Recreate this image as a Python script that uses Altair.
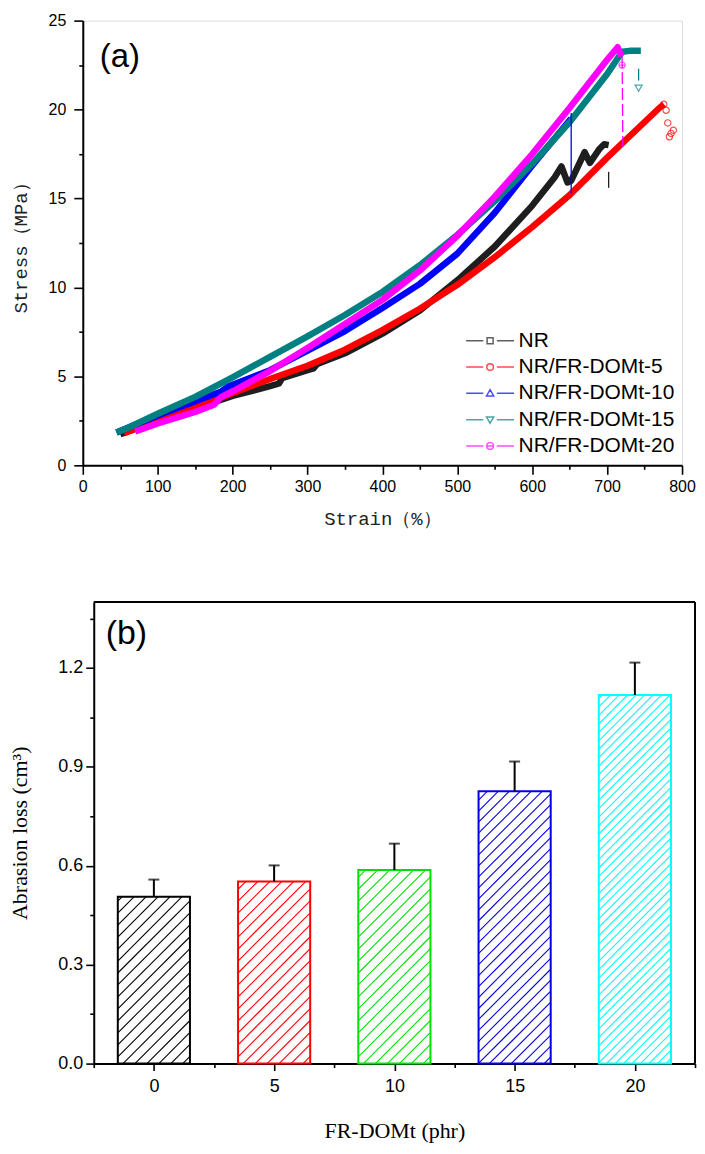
import altair as alt
import numpy as np
import pandas as pd

# ---------------- panel (a): stress-strain curves ----------------
SERIES = ["NR", "NR/FR-DOMt-5", "NR/FR-DOMt-10", "NR/FR-DOMt-15", "NR/FR-DOMt-20"]
SERIES_COLORS = ["#1e1e1e", "#ff0000", "#0000ff", "#008080", "#ff00ff"]

NR_STRAIN = [50, 100, 150, 200, 250, 262, 266, 300, 308, 313, 350, 400, 450, 500, 550, 600, 630, 639, 647, 652, 670, 677, 690, 696, 702]
NR_STRESS = [1.75, 2.5, 3.2, 3.9, 4.45, 4.6, 4.9, 5.35, 5.45, 5.7, 6.3, 7.4, 8.7, 10.4, 12.3, 14.6, 16.2, 16.8, 15.9, 16.0, 17.6, 17.0, 17.8, 18.05, 18.0]

FR5_STRAIN = [55, 100, 150, 200, 250, 300, 350, 400, 450, 500, 550, 600, 650, 700, 750, 770, 776]
FR5_STRESS = [1.8, 2.55, 3.3, 4.05, 4.85, 5.6, 6.5, 7.6, 8.8, 10.15, 11.7, 13.4, 15.2, 17.3, 19.3, 20.1, 20.3]

FR10_STRAIN = [45, 100, 150, 185, 195, 250, 300, 350, 400, 450, 500, 550, 600, 652]
FR10_STRESS = [1.85, 2.8, 3.6, 4.15, 4.45, 5.35, 6.45, 7.55, 8.85, 10.2, 11.9, 14.2, 16.85, 19.5]

FR15_STRAIN = [45, 60, 100, 150, 200, 250, 300, 350, 400, 450, 500, 550, 600, 650, 700, 720, 730, 745]
FR15_STRESS = [1.85, 2.1, 2.9, 3.85, 4.95, 6.1, 7.25, 8.45, 9.75, 11.25, 12.95, 14.85, 16.95, 19.3, 22.0, 23.25, 23.3, 23.3]

FR20_STRAIN = [70, 100, 150, 175, 185, 200, 250, 300, 350, 400, 450, 500, 550, 600, 650, 700, 714, 719]
FR20_STRESS = [1.9, 2.35, 3.0, 3.4, 3.85, 4.15, 5.3, 6.6, 7.95, 9.3, 10.95, 12.9, 15.1, 17.5, 20.1, 22.8, 23.5, 23.0]

# thin fracture lines after the end of each curve
DROP_SERIES = ["NR", "NR", "NR/FR-DOMt-10", "NR/FR-DOMt-10",
               "NR/FR-DOMt-15", "NR/FR-DOMt-15", "NR/FR-DOMt-20", "NR/FR-DOMt-20"]
DROP_STRAIN = [702, 702, 652, 652, 742, 742, 720, 721]
DROP_STRESS = [16.5, 15.6, 19.8, 15.3, 22.3, 21.6, 23.0, 17.9]
DROP_DASHED = [False, False, False, False, True, True, True, True]

# scattered end markers
RED_TAIL_STRAIN = [775.6, 778.7, 780.9, 788.4, 785.3, 783.1]
RED_TAIL_STRESS = [20.3, 19.96, 19.25, 18.84, 18.66, 18.47]
TEAL_END_STRAIN = [742]
TEAL_END_STRESS = [21.2]
PINK_END_STRAIN = [720]
PINK_END_STRESS = [22.5]

# ---------------- panel (b): abrasion loss ----------------
LOADINGS = [0, 5, 10, 15, 20]
ABRASION = [0.506, 0.552, 0.587, 0.826, 1.118]
ABRASION_ERR = [0.052, 0.049, 0.080, 0.090, 0.098]
BAR_COLORS = ["#000000", "#ff0000", "#00e000", "#0000e6", "#00ffff"]

# ---------------- layout / style constants ----------------
WA, HA = 601, 446
WB, HB = 603, 463
B_SHIFT = 11          # panel (b) frame sits 11 px to the right of panel (a)'s
XB_DOMAIN = [-2.5, 22.5]
YB_DOMAIN = [0, 1.4]
BAR_HALF = 1.5
HATCH_PX = [12, 12, 12, 11, 8.5]

# ---------- build tables ----------
curve_parts = []
for name, xs, ys in zip(SERIES,
                        [NR_STRAIN, FR5_STRAIN, FR10_STRAIN, FR15_STRAIN, FR20_STRAIN],
                        [NR_STRESS, FR5_STRESS, FR10_STRESS, FR15_STRESS, FR20_STRESS]):
    curve_parts.append(pd.DataFrame({"series": name, "strain": xs, "stress": ys,
                                     "ord": np.arange(len(xs))}))
curves = pd.concat(curve_parts, ignore_index=True)

drops = pd.DataFrame({"series": DROP_SERIES, "strain": DROP_STRAIN,
                      "stress": DROP_STRESS, "dashed": DROP_DASHED})
drops["ord"] = np.arange(len(drops))

axis_common = dict(grid=False, domainColor="black", domainWidth=2, tickColor="black",
                   tickWidth=1.6, labelColor="black", labelFont="Liberation Sans",
                   labelOverlap=False, labelFlush=False, titleFontWeight="normal")

axis_ax = alt.Axis(values=list(range(0, 801, 50)),
                   labelExpr="datum.value % 100 == 0 ? datum.label : ''",
                   tickSize={"condition": {"test": "datum.value % 100 != 0", "value": 4}, "value": 9},
                   title="Strain（%）", titleFont="Liberation Mono", titleFontSize=19,
                   titleColor="#222222", titlePadding=15, labelFontSize=16, labelPadding=4,
                   **axis_common)
axis_ay = alt.Axis(values=[2.5 * k for k in range(11)],
                   labelExpr="datum.value % 5 == 0 ? datum.label : ''",
                   tickSize={"condition": {"test": "datum.value % 5 != 0", "value": 4}, "value": 9},
                   title="Stress（MPa）", titleFont="Liberation Mono", titleFontSize=19,
                   titleColor="#222222", titlePadding=18, labelFontSize=16, labelPadding=8,
                   **axis_common)

xa = lambda f: alt.X(f, scale=alt.Scale(domain=[0, 800], nice=False, zero=False), axis=axis_ax)
ya = lambda f: alt.Y(f, scale=alt.Scale(domain=[0, 25], nice=False, zero=False), axis=axis_ay)

layers_a = []
for name, col in zip(SERIES, SERIES_COLORS):
    layers_a.append(
        alt.Chart(curves).transform_filter(alt.datum.series == name)
        .mark_line(strokeWidth=6.5, strokeJoin="round", color=col)
        .encode(x=xa("strain:Q"), y=ya("stress:Q"), order="ord:Q")
    )

for name, col in zip(SERIES, SERIES_COLORS):
    sub = drops[drops["series"] == name]
    if len(sub) == 0:
        continue
    if bool(sub["dashed"].iloc[0]):
        mk = dict(strokeWidth=1.3, color=col, strokeDash=[12, 4])
    else:
        mk = dict(strokeWidth=1.3, color=col)
    layers_a.append(
        alt.Chart(drops).transform_filter(alt.datum.series == name)
        .mark_line(**mk).encode(x=xa("strain:Q"), y=ya("stress:Q"), order="ord:Q")
    )

layers_a.append(
    alt.Chart(pd.DataFrame({"strain": RED_TAIL_STRAIN, "stress": RED_TAIL_STRESS}))
    .mark_point(shape="circle", filled=False, size=40, color="#ff0000", strokeWidth=1.2)
    .encode(x=xa("strain:Q"), y=ya("stress:Q")))
layers_a.append(
    alt.Chart(pd.DataFrame({"strain": TEAL_END_STRAIN, "stress": TEAL_END_STRESS}))
    .mark_point(shape="triangle-down", filled=False, size=50, color="#008080", strokeWidth=1.2)
    .encode(x=xa("strain:Q"), y=ya("stress:Q")))
layers_a.append(
    alt.Chart(pd.DataFrame({"strain": PINK_END_STRAIN, "stress": PINK_END_STRESS}))
    .mark_point(shape="M0.8,0A0.8,0.8,0,1,1,-0.8,0A0.8,0.8,0,1,1,0.8,0ZM-0.8,0H0.8",
                filled=False, size=60, color="#ff00ff", strokeWidth=1.2)
    .encode(x=xa("strain:Q"), y=ya("stress:Q")))

LEG_LINE = "M-3,0H-0.85M0.85,0H3"
CIRC = "M0.42,0A0.42,0.42,0,1,1,-0.42,0A0.42,0.42,0,1,1,0.42,0Z"
SHAPES = [
    LEG_LINE + "M-0.375,-0.375H0.375V0.375H-0.375Z",
    LEG_LINE + CIRC,
    LEG_LINE + "M0,-0.45L0.45,0.33H-0.45Z",
    LEG_LINE + "M0,0.45L0.45,-0.33H-0.45Z",
    LEG_LINE + CIRC + "M-0.42,0H0.42",
]
leg = alt.Legend(orient="none", legendX=398, legendY=310.5, title=None, padding=0,
                 labelFont="Liberation Sans", labelFontSize=21, labelColor="black",
                 labelLimit=400, symbolSize=256, symbolStrokeWidth=1.5,
                 labelOffset=18, rowPadding=4.4, symbolFillColor="transparent")
layers_a.append(
    alt.Chart(curves).transform_filter("datum.stress < -100")
    .mark_point(filled=False)
    .encode(x=xa("strain:Q"), y=ya("stress:Q"),
            color=alt.Color("series:N", scale=alt.Scale(domain=SERIES, range=SERIES_COLORS),
                            legend=leg),
            shape=alt.Shape("series:N", scale=alt.Scale(domain=SERIES, range=SHAPES),
                            legend=leg)))

layers_a.append(
    alt.Chart(pd.DataFrame({"t": ["(a)"]}))
    .mark_text(align="left", baseline="alphabetic", fontSize=33, font="Liberation Sans",
               color="black")
    .encode(text="t:N", x=alt.value(17), y=alt.value(47)))

panel_a = alt.layer(*layers_a).properties(width=WA, height=HA)

# ---------- panel (b) ----------
bars = pd.DataFrame({"load": LOADINGS, "val": ABRASION, "err": ABRASION_ERR,
                     "cat": [str(v) for v in LOADINGS]})
bars["left"] = bars["load"] - BAR_HALF
bars["right"] = bars["load"] + BAR_HALF
bars["base"] = 0.0
bars["top"] = bars["val"] + bars["err"]

xs_px = WB / (XB_DOMAIN[1] - XB_DOMAIN[0])
ys_px = HB / (YB_DOMAIN[1] - YB_DOMAIN[0])
hatch_rows = []
for cat, left, val, sp in zip(bars["cat"], bars["left"], bars["val"], HATCH_PX):
    W = 2 * BAR_HALF * xs_px
    H = val * ys_px
    c = W - sp * 0.6
    while c > -H:
        if c >= 0:
            u0, v0 = c, 0.0
        else:
            u0, v0 = 0.0, -c
        if W - c <= H:
            u1, v1 = W, W - c
        else:
            u1, v1 = H + c, H
        hatch_rows.append({"cat": cat, "x": left + u0 / xs_px, "x2": left + u1 / xs_px,
                           "y": v0 / ys_px, "y2": v1 / ys_px})
        c -= sp
hatch = pd.DataFrame(hatch_rows)

bar_stroke = alt.Scale(domain=[str(v) for v in LOADINGS], range=BAR_COLORS)

axis_bx = alt.Axis(values=[-2.5 + 2.5 * k for k in range(11)],
                   labelExpr="datum.value % 5 == 0 ? datum.label : ''",
                   tickSize={"condition": {"test": "datum.value % 5 != 0", "value": 4}, "value": 7},
                   title="FR-DOMt (phr)", titleFont="Liberation Serif", titleFontSize=22,
                   titleColor="black", titlePadding=25, labelFontSize=18, labelPadding=7,
                   **axis_common)
axis_by = alt.Axis(values=[round(0.15 * k, 2) for k in range(10)],
                   labelExpr="abs(datum.value / 0.3 - round(datum.value / 0.3)) < 1e-6 ? format(datum.value, '.1f') : ''",
                   tickSize={"condition": {"test": "abs(datum.value / 0.3 - round(datum.value / 0.3)) > 1e-6",
                                           "value": 4}, "value": 8},
                   title="Abrasion loss (cm³)", titleFont="Liberation Serif", titleFontSize=22,
                   titleColor="black", titlePadding=26, labelFontSize=18, labelPadding=3,
                   offset=-B_SHIFT, **axis_common)

xb = lambda f: alt.X(f, scale=alt.Scale(domain=XB_DOMAIN, nice=False, zero=False,
                                        range=[B_SHIFT, B_SHIFT + WB]), axis=axis_bx)
yb = lambda f: alt.Y(f, scale=alt.Scale(domain=YB_DOMAIN, nice=False, zero=False), axis=axis_by)

hatch_layer = (alt.Chart(hatch).mark_rule(strokeWidth=1.1)
               .encode(x=xb("x:Q"), x2="x2:Q", y=yb("y:Q"), y2="y2:Q",
                       stroke=alt.Stroke("cat:N", scale=bar_stroke, legend=None)))
bar_layer = (alt.Chart(bars).mark_rect(fill="transparent", strokeWidth=2)
             .encode(x=xb("left:Q"), x2="right:Q", y=yb("base:Q"), y2="val:Q",
                     stroke=alt.Stroke("cat:N", scale=bar_stroke, legend=None)))
err_layer = (alt.Chart(bars).mark_rule(color="black", strokeWidth=2)
             .encode(x=xb("load:Q"), y=yb("val:Q"), y2="top:Q"))
cap_layer = (alt.Chart(bars).mark_tick(color="black", orient="horizontal", size=11, thickness=2)
             .encode(x=xb("load:Q"), y=yb("top:Q")))
frame_one = pd.DataFrame({"k": [0]})
frame_top = (alt.Chart(frame_one).mark_rule(color="black", strokeWidth=2)
             .encode(x=alt.value(B_SHIFT), x2=alt.value(B_SHIFT + WB), y=alt.value(0)))
frame_right = (alt.Chart(frame_one).mark_rule(color="black", strokeWidth=2)
               .encode(x=alt.value(B_SHIFT + WB), y=alt.value(0), y2=alt.value(HB)))
label_b = (alt.Chart(pd.DataFrame({"t": ["(b)"]}))
           .mark_text(align="left", baseline="alphabetic", fontSize=34, font="Liberation Sans",
                      color="black")
           .encode(text="t:N", x=alt.value(B_SHIFT + 12), y=alt.value(42)))

panel_b = (alt.layer(hatch_layer, bar_layer, err_layer, cap_layer, frame_top, frame_right, label_b)
           .properties(width=WB + B_SHIFT, height=HB, view=alt.ViewBackground(stroke="transparent")))

chart = (alt.vconcat(panel_a, panel_b, spacing=71)
         .resolve_scale(color="independent", shape="independent", stroke="independent")
         .properties(padding={"left": 0, "top": 2, "right": 0, "bottom": 0})
         .configure_view(stroke="black", strokeWidth=2)
         .configure(background="white"))

chart.save("out.html", embed_options={"renderer": "svg", "actions": False})
